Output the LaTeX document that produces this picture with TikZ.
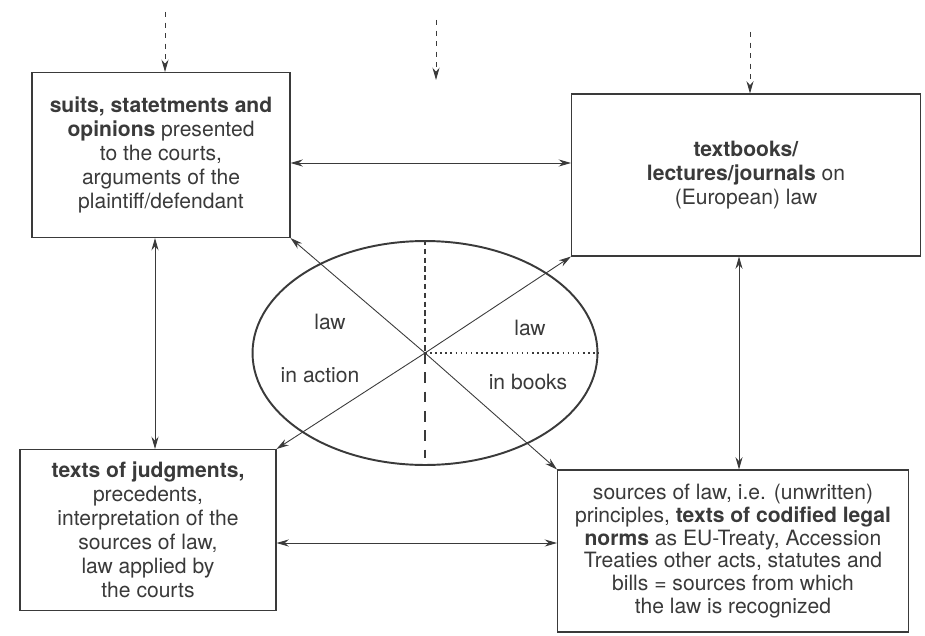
\documentclass[tikz,border=0pt]{standalone}
\usepackage{fontspec}
\setmainfont{TeX Gyre Heros}
\usepackage{tikz}
\usetikzlibrary{arrows.meta, shapes.geometric}
\definecolor{ink}{HTML}{3A3A3A}

\begin{document}
\begin{tikzpicture}[x=0.02cm, y=-0.02cm, >={Stealth[length=7pt,width=4pt]}, ink, text=ink]
  \tikzstyle{textbox}=[draw, line width=0.6pt, align=center, font=\fontsize{12}{13.7}\selectfont]
  \tikzstyle{link}=[<->, line width=0.5pt]
  \tikzstyle{feed}=[->, dash pattern=on 3pt off 3pt, line width=0.5pt]
  \useasboundingbox[fill=white] (0,0) rectangle (925,635);
  \node[textbox, minimum width=5.16cm, minimum height=3.3cm] (T_1) at (161,155)
    {\textbf{suits, statetments and}\\ \textbf{opinions} presented\\ to the courts,\\ arguments of the\\ plaintiff/defendant};
  \node[textbox, minimum width=6.98cm, minimum height=3.24cm] (T_2) at (746,175)
    {\textbf{textbooks/}\\ \textbf{lectures/journals} on\\ (European) law};
  \node[textbox, minimum width=5.12cm, minimum height=3.22cm] (T_3) at (148,530)
    {\textbf{texts of judgments,}\\ precedents,\\ interpretation of the\\ sources of law,\\ law applied by\\ the courts};
  \node[textbox, font=\fontsize{12}{13}\selectfont, minimum width=7.02cm, minimum height=3.24cm] (T_4) at (733,551)
    {sources of law, i.e. (unwritten)\\ principles, \textbf{texts of codified legal}\\ \textbf{norms} as EU-Treaty, Accession\\ Treaties other acts, statutes and\\ bills = sources from which\\ the law is recognized};
  \node[draw, ellipse, line width=1.1pt, minimum width=6.9cm, minimum height=4.48cm, inner sep=0pt] (E) at (425,353) {};
  \node[font=\fontsize{12}{14}\selectfont] (L_1) at (330,322) {law};
  \node[font=\fontsize{12}{14}\selectfont] (L_2) at (320,375) {in action};
  \node[font=\fontsize{12}{14}\selectfont] (L_3) at (530,328) {law};
  \node[font=\fontsize{12}{14}\selectfont] (L_4) at (528,382) {in books};
  % dividers of the ellipse
  \draw[dash pattern=on 3pt off 2pt, line width=0.9pt] (E.north) -- (E.center);
  \draw[dash pattern=on 6pt off 5pt, line width=0.9pt] (E.center) -- ([yshift=0.15cm]E.south);
  \draw[dotted, line width=0.9pt] (E.center) -- (E.east);
  \draw[->, line width=0.5pt] (E.center) -- (T_1.south east);
  \draw[->, line width=0.5pt] (E.center) -- (T_2.south west);
  \draw[->, line width=0.5pt] (E.center) -- (T_3.north east);
  \draw[->, line width=0.5pt] (E.center) -- (T_4.north west);
  % links between the boxes
  \coordinate (h_1) at ([yshift=-0.16cm]T_1.east);
  \coordinate (h_2) at ([yshift=-0.26cm]T_3.east);
  \coordinate (v_1) at ([xshift=0.14cm]T_3.north);
  \coordinate (v_2) at ([xshift=0.12cm]T_4.north);
  \draw[link] (h_1) -- (h_1 -| T_2.west);
  \draw[link] (h_2) -- (h_2 -| T_4.west);
  \draw[link] (v_1 |- T_1.south) -- (v_1);
  \draw[link] (v_2 |- T_2.south) -- (v_2);
  % incoming dashed arrows
  \coordinate (in_1) at (165,12);
  \coordinate (in_2) at (436,20);
  \coordinate (out_2) at (436,80);
  \coordinate (in_3) at (750,32);
  \draw[feed] (in_1) -- (in_1 |- T_1.north);
  \draw[feed] (in_2) -- (out_2);
  \draw[feed] (in_3) -- (in_3 |- T_2.north);
\end{tikzpicture}
\end{document}
